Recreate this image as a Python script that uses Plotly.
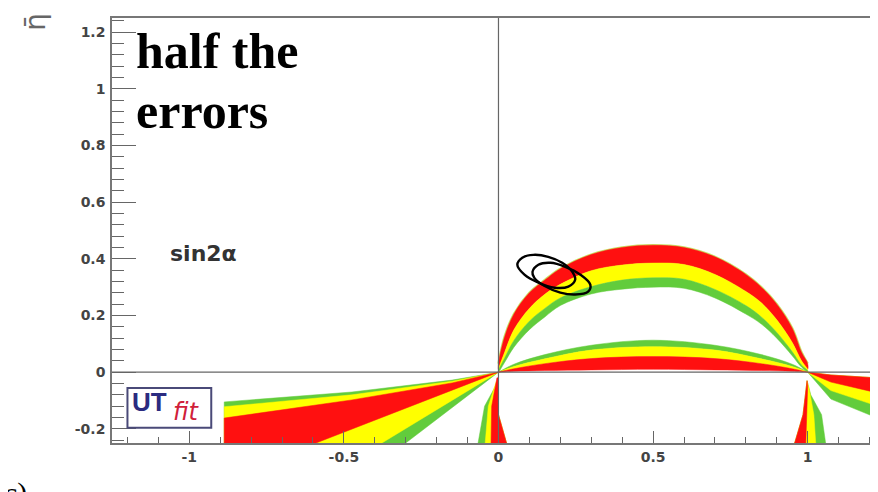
import plotly.graph_objects as go

# ---------------- data ----------------
# upper sin2alpha arc (rho grid and band boundaries in eta)
rho_up = [0.0, 0.02, 0.05, 0.1, 0.15, 0.2, 0.3, 0.4, 0.5, 0.6, 0.7, 0.8, 0.85, 0.9, 0.95, 0.98, 1.0]
eta_up_outer = [0.03, 0.125, 0.205, 0.28, 0.325, 0.365, 0.415, 0.44, 0.448, 0.44, 0.407, 0.345, 0.30, 0.24, 0.155, 0.07, 0.03]
eta_up_red_yel = [0.01, 0.07, 0.15, 0.225, 0.275, 0.31, 0.358, 0.378, 0.385, 0.38, 0.345, 0.285, 0.245, 0.185, 0.105, 0.04, 0.01]
eta_up_yel_grn = [0.005, 0.05, 0.112, 0.18, 0.225, 0.262, 0.302, 0.325, 0.333, 0.328, 0.292, 0.235, 0.195, 0.14, 0.072, 0.025, 0.005]
eta_up_inner = [0.0, 0.035, 0.088, 0.15, 0.195, 0.235, 0.276, 0.293, 0.30, 0.296, 0.262, 0.205, 0.17, 0.12, 0.058, 0.018, 0.0]

# lower sin2alpha arc
rho_low = [0.0, 0.05, 0.15, 0.3, 0.5, 0.7, 0.85, 0.95, 1.0]
eta_low_top = [0.0, 0.028, 0.062, 0.095, 0.113, 0.095, 0.062, 0.028, 0.0]
eta_low_grn_yel = [0.0, 0.02, 0.047, 0.078, 0.09, 0.078, 0.047, 0.02, 0.0]
eta_low_yel_red = [0.0, 0.012, 0.03, 0.048, 0.055, 0.048, 0.03, 0.012, 0.0]
eta_low_bottom = [0.0, 0.003, 0.006, 0.008, 0.01, 0.008, 0.006, 0.003, 0.0]

# left wedge below the axis
lw_green_rho = [0.0, -0.15, -0.474, -0.887, -0.887, -0.30, 0.0]
lw_green_eta = [0.0, -0.028, -0.07, -0.105, -0.25, -0.25, 0.0]
lw_yellow_rho = [0.0, -0.15, -0.474, -0.887, -0.887, -0.377, 0.0]
lw_yellow_eta = [0.0, -0.032, -0.08, -0.122, -0.25, -0.25, 0.0]
lw_red_rho = [0.0, -0.15, -0.474, -0.887, -0.887, -0.59, 0.0]
lw_red_eta = [0.0, -0.038, -0.098, -0.162, -0.25, -0.25, 0.0]

# narrow band below rho = 0
n0_green_rho = [-0.01, -0.045, -0.066, 0.026, 0.0, 0.0]
n0_green_eta = [-0.05, -0.12, -0.25, -0.25, -0.15, -0.02]
n0_yellow_rho = [-0.008, -0.033, -0.043, 0.026, 0.0, 0.0]
n0_yellow_eta = [-0.035, -0.12, -0.25, -0.25, -0.15, -0.02]
n0_red_rho = [-0.005, -0.022, -0.024, 0.026, 0.0, 0.0]
n0_red_eta = [-0.02, -0.12, -0.25, -0.25, -0.15, -0.02]

# narrow band below rho = 1
n1_green_rho = [1.01, 1.045, 1.058, 0.958, 0.985, 0.998]
n1_green_eta = [-0.08, -0.15, -0.25, -0.25, -0.15, -0.03]
n1_yellow_rho = [1.005, 1.02, 1.026, 0.958, 0.985, 0.998]
n1_yellow_eta = [-0.06, -0.15, -0.25, -0.25, -0.15, -0.03]
n1_red_rho = [1.0, 0.998, 0.994, 0.958, 0.985, 0.998]
n1_red_eta = [-0.05, -0.15, -0.25, -0.25, -0.15, -0.03]

# right wedge below the axis
rw_rho = [1.0, 1.075, 1.221, 1.221, 1.075, 1.0]
rw_green_eta = [0.0, -0.01, -0.02, -0.16, -0.095, 0.0]
rw_yellow_eta = [0.0, -0.01, -0.02, -0.118, -0.065, 0.0]
rw_red_eta = [0.0, -0.01, -0.02, -0.072, -0.035, 0.0]

# fit contours
ell_outer_rho = [0.061, 0.077, 0.113, 0.161, 0.206, 0.239, 0.248, 0.226, 0.181, 0.129, 0.084, 0.061]
ell_outer_eta = [0.379, 0.404, 0.414, 0.407, 0.386, 0.354, 0.326, 0.302, 0.298, 0.316, 0.344, 0.379]
ell_inner_rho = [0.110, 0.129, 0.168, 0.216, 0.265, 0.297, 0.290, 0.248, 0.200, 0.148, 0.116, 0.110]
ell_inner_eta = [0.354, 0.379, 0.386, 0.372, 0.344, 0.309, 0.284, 0.274, 0.281, 0.305, 0.333, 0.354]

x_tickvals = [-1, -0.5, 0, 0.5, 1]
x_ticktext = ["-1", "-0.5", "0", "0.5", "1"]
y_tickvals = [-0.2, 0, 0.2, 0.4, 0.6, 0.8, 1.0, 1.2]
y_ticktext = ["-0.2", "0", "0.2", "0.4", "0.6", "0.8", "1", "1.2"]

RED = "#ff1010"
YEL = "#ffff00"
GRN = "#62cc3c"

fig = go.Figure()


def band(xs_a, ys_a, xs_b, ys_b, color, smooth=True):
    xs = list(xs_a) + list(xs_b)[::-1]
    ys = list(ys_a) + list(ys_b)[::-1]
    fig.add_trace(go.Scatter(x=xs + [xs[0]], y=ys + [ys[0]], mode="lines", fill="toself",
                             fillcolor=color, line=dict(color=color, width=0.5,
                                                        shape="spline" if smooth else "linear"),
                             hoverinfo="skip", showlegend=False))


def poly(xs, ys, color):
    fig.add_trace(go.Scatter(x=list(xs) + [xs[0]], y=list(ys) + [ys[0]], mode="lines", fill="toself",
                             fillcolor=color, line=dict(color=color, width=0.5),
                             hoverinfo="skip", showlegend=False))


# outer fringe of upper arc
fig.add_trace(go.Scatter(x=rho_up, y=eta_up_outer, mode="lines",
                         line=dict(color="#c8e468", width=2.5, shape="spline"),
                         hoverinfo="skip", showlegend=False))
band(rho_up, eta_up_outer, rho_up, eta_up_red_yel, RED)
band(rho_up, eta_up_red_yel, rho_up, eta_up_yel_grn, YEL)
band(rho_up, eta_up_yel_grn, rho_up, eta_up_inner, GRN)

band(rho_low, eta_low_top, rho_low, eta_low_grn_yel, GRN)
band(rho_low, eta_low_grn_yel, rho_low, eta_low_yel_red, YEL)
band(rho_low, eta_low_yel_red, rho_low, eta_low_bottom, RED)

poly(lw_green_rho, lw_green_eta, GRN)
poly(lw_yellow_rho, lw_yellow_eta, YEL)
poly(lw_red_rho, lw_red_eta, RED)

poly(n0_green_rho, n0_green_eta, GRN)
poly(n0_yellow_rho, n0_yellow_eta, YEL)
poly(n0_red_rho, n0_red_eta, RED)

poly(n1_green_rho, n1_green_eta, GRN)
poly(n1_yellow_rho, n1_yellow_eta, YEL)
poly(n1_red_rho, n1_red_eta, RED)

poly(rw_rho, rw_green_eta, GRN)
poly(rw_rho, rw_yellow_eta, YEL)
poly(rw_rho, rw_red_eta, RED)

for ex, ey in [(ell_outer_rho, ell_outer_eta), (ell_inner_rho, ell_inner_eta)]:
    fig.add_trace(go.Scatter(x=ex, y=ey, mode="lines",
                             line=dict(color="black", width=2.4, shape="spline", smoothing=1.0),
                             hoverinfo="skip", showlegend=False))

tickfont = dict(family="DejaVu Sans", size=14, color="#444", weight="bold")

fig.update_xaxes(range=[-1.25, 1.221], tickmode="array", tickvals=x_tickvals, ticktext=x_ticktext,
                 ticks="inside", ticklen=12, tickcolor="#666", tickwidth=1,
                 minor=dict(tickmode="array", tickvals=[round(-1.2 + 0.1 * i, 2) for i in range(25)],
                            ticks="inside", ticklen=6, tickcolor="#666", tickwidth=1),
                 showgrid=False, zeroline=False, showline=True, mirror=True,
                 linecolor="#777", linewidth=1.5, tickfont=tickfont)
fig.update_yaxes(range=[-0.25, 1.25], tickmode="array", tickvals=y_tickvals, ticktext=y_ticktext,
                 ticks="inside", ticklen=24, tickcolor="#666", tickwidth=1,
                 minor=dict(tickmode="array", tickvals=[round(-0.24 + 0.04 * i, 2) for i in range(38)],
                            ticks="inside", ticklen=12, tickcolor="#666", tickwidth=1),
                 showgrid=False, zeroline=False, showline=True, mirror=True,
                 linecolor="#777", linewidth=1.5, tickfont=tickfont, ticklabelstandoff=2)

shapes = [
    dict(type="line", xref="paper", x0=0, x1=1, yref="y", y0=0, y1=0,
         line=dict(color="#666", width=1.2), layer="above"),
    dict(type="line", xref="x", x0=0, x1=0, yref="paper", y0=0, y1=1,
         line=dict(color="#666", width=1.2), layer="above"),
    dict(type="rect", xref="x", yref="y", x0=-1.2, x1=-0.929, y0=-0.196, y1=-0.056,
         line=dict(color="#4a4a78", width=2), fillcolor="white", layer="above"),
]

annotations = [
    dict(text="<b>half the</b>", x=-1.18, y=1.135, xref="x", yref="y", xanchor="left", yanchor="middle",
         showarrow=False, font=dict(family="Liberation Serif", size=50, color="black")),
    dict(text="<b>errors</b>", x=-1.18, y=0.922, xref="x", yref="y", xanchor="left", yanchor="middle",
         showarrow=False, font=dict(family="Liberation Serif", size=50, color="black")),
    dict(text="<b>sin2α</b>", x=-0.955, y=0.42, xref="x", yref="y", xanchor="center", yanchor="middle",
         showarrow=False, font=dict(family="DejaVu Sans", size=22, color="#333")),
    dict(text="<b>UT</b>", x=-1.13, y=-0.107, xref="x", yref="y", xanchor="center", yanchor="middle",
         showarrow=False, font=dict(family="Liberation Sans", size=26, color="#2b2b80")),
    dict(text="<i>fit</i>", x=-1.008, y=-0.14, xref="x", yref="y", xanchor="center", yanchor="middle",
         showarrow=False, font=dict(family="DejaVu Sans", size=24, color="#d0203a")),
    dict(text="η̄", x=-0.1, y=0.99, xref="paper", yref="paper", xanchor="center", yanchor="middle",
         textangle=-90, showarrow=False, font=dict(family="DejaVu Sans", size=28, color="#666")),
    dict(text="ρ̄", x=0.992, y=-0.03, xref="paper", yref="paper", xanchor="left", yanchor="top",
         showarrow=False, font=dict(family="DejaVu Sans", size=22, color="#555")),
    dict(text="c)", x=-0.108, y=-0.072, xref="paper", yref="paper", xanchor="right", yanchor="top",
         showarrow=False, font=dict(family="Liberation Serif", size=30, color="black")),
]

# page body adds an 8 px offset: figure is sized to fill the rest of the window
fig.update_layout(width=870, height=484, margin=dict(l=104, r=0, t=10, b=49),
                  plot_bgcolor="white", paper_bgcolor="white",
                  shapes=shapes, annotations=annotations, showlegend=False)

fig.write_html("out.html")
